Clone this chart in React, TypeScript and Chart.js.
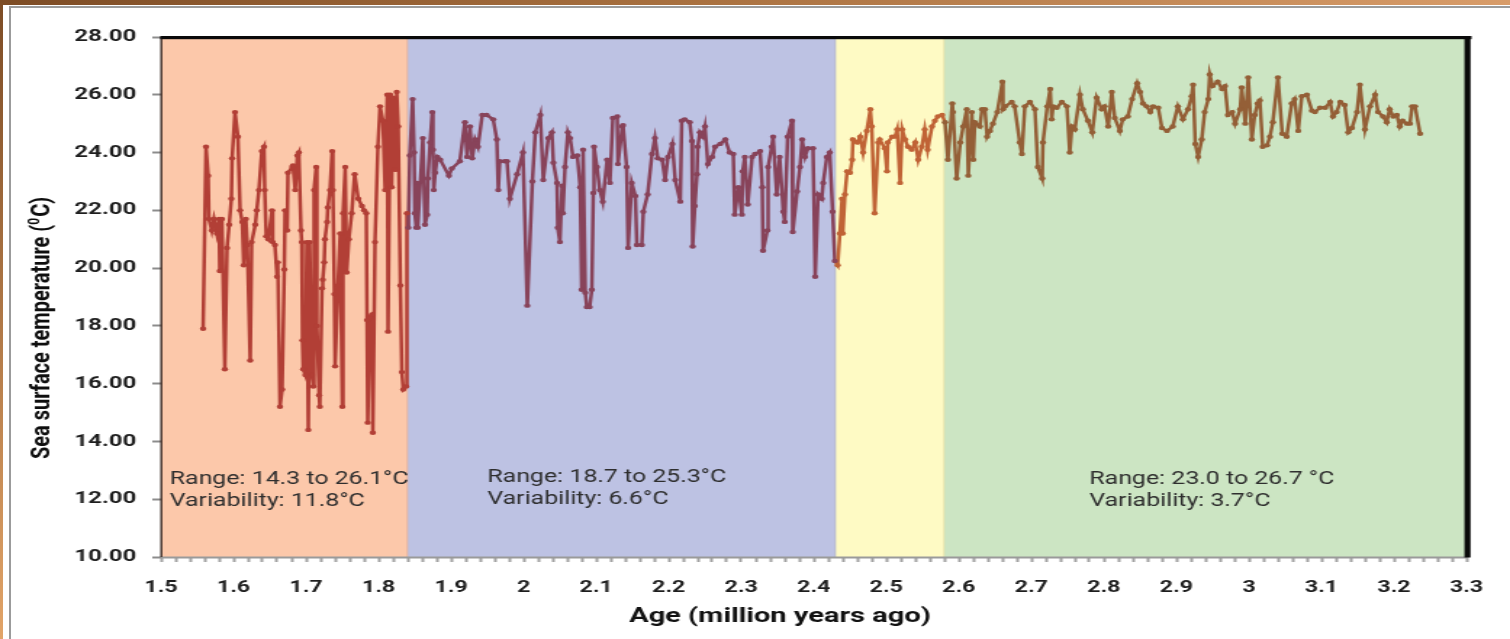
import React, { useEffect, useRef } from 'react';
import { Chart, registerables } from 'chart.js';

Chart.register(...registerables);

// ---- data (age in million years ago, sea surface temperature in °C) ----
const ages: number[] = [
  1.558, 1.562, 1.565, 1.566, 1.570, 1.573, 1.577, 1.580, 1.581, 1.584, 1.588, 1.591, 1.594, 1.597, 1.598, 1.602,
  1.606, 1.609, 1.612, 1.614, 1.617, 1.619, 1.623, 1.625, 1.630, 1.632, 1.635, 1.639, 1.642, 1.643, 1.645, 1.648,
  1.653, 1.654, 1.657, 1.660, 1.661, 1.664, 1.667, 1.670, 1.671, 1.674, 1.675, 1.681, 1.682, 1.685, 1.688, 1.690,
  1.693, 1.694, 1.695, 1.696, 1.699, 1.701, 1.703, 1.705, 1.708, 1.710, 1.711, 1.714, 1.715, 1.718, 1.719, 1.722,
  1.723, 1.725, 1.726, 1.729, 1.730, 1.733, 1.736, 1.737, 1.739, 1.740, 1.744, 1.747, 1.750, 1.751, 1.754, 1.756,
  1.759, 1.763, 1.767, 1.772, 1.777, 1.780, 1.783, 1.784, 1.785, 1.788, 1.791, 1.792, 1.795, 1.799, 1.802, 1.806,
  1.809, 1.812, 1.813, 1.816, 1.818, 1.820, 1.823, 1.825, 1.827, 1.830, 1.832, 1.834, 1.838, 1.839, 1.841, 1.843,
  1.847, 1.849, 1.850, 1.852, 1.853, 1.854, 1.861, 1.864, 1.867, 1.868, 1.871, 1.874, 1.875, 1.876, 1.878, 1.881,
  1.885, 1.897, 1.901, 1.912, 1.919, 1.922, 1.926, 1.929, 1.933, 1.937, 1.943, 1.949, 1.958, 1.963, 1.965, 1.967,
  1.974, 1.977, 1.981, 1.991, 1.999, 2.005, 2.012, 2.016, 2.023, 2.027, 2.034, 2.039, 2.041, 2.046, 2.047, 2.050,
  2.053, 2.054, 2.057, 2.061, 2.064, 2.068, 2.074, 2.078, 2.080, 2.082, 2.085, 2.087, 2.091, 2.094, 2.096, 2.097,
  2.101, 2.105, 2.109, 2.115, 2.119, 2.123, 2.129, 2.130, 2.136, 2.137, 2.142, 2.144, 2.149, 2.154, 2.156, 2.163,
  2.165, 2.171, 2.177, 2.181, 2.185, 2.191, 2.195, 2.199, 2.205, 2.209, 2.216, 2.218, 2.222, 2.229, 2.232, 2.233,
  2.236, 2.239, 2.240, 2.243, 2.247, 2.250, 2.254, 2.260, 2.264, 2.271, 2.278, 2.284, 2.289, 2.291, 2.296, 2.301,
  2.302, 2.305, 2.309, 2.315, 2.319, 2.326, 2.329, 2.330, 2.336, 2.337, 2.342, 2.344, 2.349, 2.353, 2.358, 2.360,
  2.364, 2.370, 2.371, 2.377, 2.381, 2.384, 2.388, 2.392, 2.399, 2.402, 2.406, 2.411, 2.413, 2.418, 2.422, 2.426,
  2.429, 2.433, 2.436, 2.439, 2.440, 2.443, 2.446, 2.450, 2.453, 2.454, 2.460, 2.464, 2.468, 2.473, 2.478, 2.480,
  2.484, 2.489, 2.491, 2.498, 2.501, 2.502, 2.508, 2.512, 2.515, 2.519, 2.522, 2.526, 2.530, 2.535, 2.540, 2.544,
  2.549, 2.553, 2.557, 2.563, 2.567, 2.571, 2.577, 2.581, 2.585, 2.591, 2.592, 2.597, 2.602, 2.606, 2.611, 2.613,
  2.618, 2.620, 2.622, 2.629, 2.632, 2.636, 2.639, 2.643, 2.647, 2.653, 2.660, 2.661, 2.664, 2.673, 2.677, 2.684,
  2.687, 2.691, 2.698, 2.705, 2.709, 2.715, 2.716, 2.722, 2.726, 2.728, 2.730, 2.735, 2.742, 2.749, 2.753, 2.756,
  2.760, 2.767, 2.771, 2.778, 2.784, 2.790, 2.797, 2.801, 2.806, 2.811, 2.815, 2.822, 2.826, 2.833, 2.839, 2.846,
  2.850, 2.854, 2.859, 2.864, 2.868, 2.875, 2.880, 2.887, 2.895, 2.902, 2.909, 2.916, 2.921, 2.923, 2.926, 2.930,
  2.935, 2.939, 2.944, 2.946, 2.950, 2.957, 2.963, 2.967, 2.971, 2.977, 2.981, 2.988, 2.990, 2.995, 2.999, 3.004,
  3.008, 3.012, 3.015, 3.019, 3.025, 3.029, 3.033, 3.040, 3.046, 3.052, 3.059, 3.063, 3.068, 3.073, 3.080, 3.087,
  3.091, 3.098, 3.105, 3.112, 3.116, 3.121, 3.126, 3.132, 3.137, 3.142, 3.149, 3.153, 3.160, 3.167, 3.174, 3.178,
  3.185, 3.190, 3.194, 3.199, 3.204, 3.208, 3.212, 3.218, 3.222, 3.225, 3.229, 3.236,
];

const temps: number[] = [
  17.9, 24.2, 23.2, 21.7, 21.3, 21.7, 21.2, 21.7, 19.9, 21.7, 16.5, 20.7, 21.5, 22.4, 23.8, 25.4,
  24.55, 22.0, 21.6, 20.1, 21.7, 20.8, 16.8, 20.9, 21.5, 22.0, 22.7, 24.05, 24.2, 22.7, 21.1, 21.0,
  22.0, 20.9, 20.8, 19.7, 20.2, 15.2, 15.8, 19.95, 22.0, 21.3, 23.3, 23.5, 23.55, 22.7, 23.9, 24.0,
  21.3, 20.9, 17.5, 16.5, 16.3, 20.9, 14.4, 20.9, 16.3, 15.9, 22.7, 23.5, 18.0, 15.6, 15.2, 19.3,
  19.6, 20.2, 21.0, 21.6, 22.1, 22.7, 24.05, 22.7, 19.1, 16.6, 19.4, 21.2, 15.2, 21.9, 23.5, 19.85,
  21.0, 21.9, 23.25, 22.4, 22.15, 22.0, 21.9, 18.2, 14.65, 18.3, 18.4, 14.3, 20.9, 24.2, 25.6, 25.1,
  22.7, 26.0, 17.8, 26.0, 22.8, 25.9, 23.4, 26.1, 24.9, 19.4, 16.4, 15.8, 15.9, 21.9, 21.4, 23.9,
  25.85, 24.0, 21.9, 21.4, 22.95, 21.4, 24.5, 21.5, 21.85, 23.1, 24.35, 25.4, 24.1, 22.7, 23.3, 23.85,
  23.75, 23.2, 23.45, 23.7, 25.05, 23.85, 24.9, 23.8, 24.45, 24.2, 25.3, 25.3, 25.15, 24.45, 22.7, 23.7,
  23.7, 23.7, 22.4, 23.25, 24.0, 18.7, 23.0, 24.7, 25.3, 23.05, 24.5, 24.7, 23.65, 22.95, 21.4, 20.9,
  22.85, 21.9, 23.5, 24.7, 24.5, 23.85, 23.9, 22.8, 19.25, 24.1, 19.15, 18.65, 18.65, 19.25, 22.6, 24.2,
  23.5, 22.7, 22.3, 23.75, 22.95, 25.2, 25.25, 23.6, 24.9, 24.95, 23.5, 20.7, 22.95, 22.5, 20.8, 20.8,
  21.95, 22.55, 23.95, 24.5, 23.8, 23.75, 23.05, 23.85, 24.3, 23.05, 22.3, 25.1, 25.15, 25.05, 24.4, 20.75,
  22.15, 23.25, 24.2, 24.7, 24.55, 24.9, 23.6, 23.85, 24.2, 24.3, 24.45, 24.0, 23.95, 21.85, 22.8, 21.85,
  23.35, 23.85, 22.2, 23.85, 23.95, 24.05, 22.8, 20.6, 21.3, 23.5, 24.2, 24.55, 22.55, 23.85, 21.95, 21.6,
  24.55, 25.1, 21.25, 22.65, 23.5, 24.45, 23.85, 24.15, 24.15, 19.7, 22.55, 22.4, 22.95, 23.85, 24.0, 21.95,
  20.25, 20.1, 21.2, 22.4, 21.2, 22.55, 23.35, 23.3, 23.75, 24.45, 24.35, 24.55, 24.0, 24.75, 25.5, 24.9,
  21.9, 24.35, 24.45, 24.15, 23.35, 24.35, 24.55, 24.55, 24.8, 22.95, 24.8, 24.45, 24.2, 24.1, 24.35, 23.75,
  24.2, 24.8, 24.1, 24.9, 25.1, 25.25, 25.3, 25.05, 23.75, 25.7, 25.4, 23.1, 24.35, 24.9, 25.5, 23.2,
  25.4, 23.75, 25.05, 24.9, 25.5, 25.5, 24.55, 24.75, 25.0, 25.4, 26.45, 25.5, 25.6, 25.75, 25.6, 24.35,
  23.95, 25.6, 25.75, 25.5, 23.5, 23.1, 24.35, 25.6, 26.2, 25.15, 25.6, 25.55, 25.75, 25.6, 24.0, 24.9,
  24.8, 26.0, 25.5, 25.1, 24.7, 25.9, 25.5, 25.6, 24.9, 26.1, 25.2, 24.75, 25.15, 25.25, 25.85, 26.4,
  26.1, 25.7, 25.6, 25.4, 25.6, 25.55, 24.85, 24.75, 24.9, 25.6, 25.15, 25.5, 25.95, 26.35, 24.3, 23.85,
  24.45, 25.4, 25.85, 26.7, 26.3, 26.45, 26.2, 26.3, 25.3, 25.4, 25.0, 25.5, 26.25, 25.0, 26.6, 24.45,
  25.3, 25.7, 25.8, 24.2, 24.25, 24.55, 25.05, 26.6, 24.65, 24.55, 25.7, 25.85, 24.75, 25.95, 26.0, 25.45,
  25.4, 25.55, 25.55, 25.75, 25.25, 25.4, 25.75, 25.65, 24.7, 24.85, 25.4, 26.35, 24.8, 25.6, 26.0, 25.4,
  25.25, 25.05, 25.5, 25.25, 25.3, 24.9, 25.1, 25.0, 25.0, 25.6, 25.6, 24.65,
];

// ---- axes ----
const xMajorTicks: number[] = [1.5, 1.6, 1.7, 1.8, 1.9, 2.0, 2.1, 2.2, 2.3, 2.4, 2.5, 2.6, 2.7, 2.8, 2.9, 3.0, 3.1, 3.2, 3.3];
const xMinorDivisions = 5;
const yTicks: number[] = [10, 12, 14, 16, 18, 20, 22, 24, 26, 28];

// ---- climate intervals ----
const bandStart: number[] = [1.5, 1.84, 2.43, 2.58];
const bandEnd: number[] = [1.84, 2.43, 2.58, 3.3];
const bandFill: string[] = ['#FCC8AA', '#BDC2E3', '#FEFAC4', '#CCE5C3'];
const bandEdge: string[] = ['#E0B2A2', '#B7B8CC', '#E2E0AA', '#CCE5C3'];
const bandLine: string[] = ['#B23F36', '#88435A', '#C06336', '#945F37'];

// ---- annotations ----
const annX: number[] = [1.512, 1.95, 2.78];
const annY1: number[] = [12.67, 12.74, 12.67];
const annY2: number[] = [11.91, 11.98, 11.91];
const annLine1: string[] = ['Range: 14.3 to 26.1°C', 'Range: 18.7 to 25.3°C', 'Range: 23.0 to 26.7 °C'];
const annLine2: string[] = ['Variability: 11.8°C', 'Variability: 6.6°C', 'Variability: 3.7°C'];

const yTitleMain = 'Sea surface temperature (';
const yTitleSup = '0';
const yTitleEnd = 'C)';
const xTitle = 'Age (million years ago)';

// the reference picture is horizontally stretched; render narrow and stretch
const CANVAS_W = 1041;
const CANVAS_H = 639;
const DISPLAY_W = 1510;
const SX = DISPLAY_W / CANVAS_W;

function bandIndex(x: number): number {
  for (let i = 0; i < bandEnd.length; i++) if (x < bandEnd[i]) return i;
  return bandEnd.length - 1;
}

function buildXTicks(): number[] {
  const out: number[] = [];
  for (let i = 0; i < xMajorTicks.length; i++) {
    out.push(xMajorTicks[i]);
    if (i < xMajorTicks.length - 1) {
      const step = (xMajorTicks[i + 1] - xMajorTicks[i]) / xMinorDivisions;
      for (let k = 1; k < xMinorDivisions; k++) out.push(Math.round((xMajorTicks[i] + k * step) * 1000) / 1000);
    }
  }
  return out;
}

function isMajor(v: number): boolean {
  return xMajorTicks.some((m) => Math.abs(m - v) < 1e-6);
}

function drawText(ctx: CanvasRenderingContext2D, text: string, x: number, y: number, font: string, color: string, align: CanvasTextAlign, sx: number) {
  ctx.save();
  ctx.translate(x, y);
  ctx.scale(sx, 1);
  ctx.font = font;
  ctx.fillStyle = color;
  ctx.textAlign = align;
  ctx.textBaseline = 'middle';
  ctx.fillText(text, 0, 0);
  ctx.restore();
}

const bandsPlugin = {
  id: 'bands',
  beforeDatasetsDraw(chart: any) {
    const { ctx, chartArea: a, scales } = chart;
    const x = scales.x;
    ctx.save();
    for (let i = 0; i < bandStart.length; i++) {
      const x0 = x.getPixelForValue(bandStart[i]);
      const x1 = x.getPixelForValue(bandEnd[i]);
      ctx.fillStyle = bandFill[i];
      ctx.fillRect(x0, a.top, x1 - x0, a.bottom - a.top);
    }
    for (let i = 1; i < bandStart.length; i++) {
      const x0 = x.getPixelForValue(bandStart[i]);
      ctx.fillStyle = bandEdge[i - 1];
      ctx.fillRect(x0 - 0.6, a.top, 0.9, a.bottom - a.top);
    }
    ctx.restore();
  },
};

const decorPlugin = {
  id: 'decor',
  afterDraw(chart: any) {
    const { ctx, chartArea: a, scales } = chart;
    const xs = scales.x;
    const ys = scales.y;
    ctx.save();
    // plot frame
    ctx.fillStyle = '#9a9a9a';
    ctx.fillRect(a.left, a.bottom - 0.5, a.right - a.left, 2);
    ctx.fillStyle = '#3a2a24';
    ctx.fillRect(a.left - 0.5, a.top, 1.4, a.bottom - a.top);
    ctx.fillStyle = '#0a0a0a';
    ctx.fillRect(a.left - 0.5, a.top - 1, a.right - a.left + 4, 3.2);
    ctx.fillRect(a.right - 1.4, a.top - 1, 4.2, a.bottom - a.top + 1.5);
    ctx.restore();

    // annotations
    for (let i = 0; i < annX.length; i++) {
      const px = xs.getPixelForValue(annX[i]);
      drawText(ctx, annLine1[i], px, ys.getPixelForValue(annY1[i]), '17.5px Roboto', '#2e2e2e', 'left', 0.98);
      drawText(ctx, annLine2[i], px, ys.getPixelForValue(annY2[i]), '17.5px Roboto', '#2e2e2e', 'left', 0.98);
    }

    // x title
    drawText(ctx, xTitle, 780 / SX, 617, 'bold 20px Roboto', '#111', 'center', 1.0);

    // y title with superscript
    ctx.save();
    ctx.translate(40 / SX, 328);
    ctx.scale(0.9, 1);
    ctx.rotate(-Math.PI / 2);
    const big = 'bold 20px Roboto';
    const small = 'bold 12px Roboto';
    ctx.font = big;
    const w1 = ctx.measureText(yTitleMain).width;
    const w3 = ctx.measureText(yTitleEnd).width;
    ctx.font = small;
    const w2 = ctx.measureText(yTitleSup).width + 1;
    let p = -(w1 + w2 + w3) / 2;
    ctx.fillStyle = '#0e0e0e';
    ctx.textAlign = 'left';
    ctx.textBaseline = 'alphabetic';
    const base = 7;
    ctx.font = big;
    ctx.fillText(yTitleMain, p, base);
    p += w1;
    ctx.font = small;
    ctx.fillText(yTitleSup, p, base - 8);
    p += w2;
    ctx.font = big;
    ctx.fillText(yTitleEnd, p, base);
    ctx.restore();
  },
};

export default function App() {
  const ref = useRef<HTMLCanvasElement>(null);

  useEffect(() => {
    const canvas = ref.current;
    if (!canvas) return;
    const xTickValues = buildXTicks();
    const points = ages.map((a, i) => ({ x: a, y: temps[i] }));
    const chart = new Chart(canvas, {
      type: 'line',
      data: {
        datasets: [
          {
            data: points,
            borderColor: bandLine[0],
            borderWidth: 2.5,
            pointRadius: 2.2,
            pointHoverRadius: 2.2,
            pointBorderWidth: 0,
            pointBackgroundColor: (c: any) => bandLine[bandIndex(c.raw ? c.raw.x : 1.5)],
            tension: 0,
            fill: false,
            segment: {
              borderColor: (c: any) => bandLine[bandIndex((c.p0.parsed.x + c.p1.parsed.x) / 2)],
            },
          } as any,
        ],
      },
      options: {
        responsive: false,
        animation: false,
        devicePixelRatio: 1,
        events: [],
        layout: { padding: { top: 37, right: 30, left: 0, bottom: 0 } },
        plugins: { legend: { display: false }, tooltip: { enabled: false }, title: { display: false } },
        scales: {
          x: {
            type: 'linear',
            min: 1.5,
            max: 3.3,
            afterBuildTicks: (s: any) => {
              s.ticks = xTickValues.map((v) => ({ value: v }));
            },
            afterFit: (s: any) => {
              s.height = CANVAS_H - 557;
            },
            border: { display: false },
            grid: { drawOnChartArea: false, drawTicks: true, tickLength: 5, tickWidth: 2, tickColor: '#a3a3a3' },
            ticks: {
              autoSkip: false,
              maxRotation: 0,
              minRotation: 0,
              padding: 16,
              color: '#1e1e1e',
              font: { family: 'Roboto', size: 16, weight: 'bold' },
              callback: (v: any) => (isMajor(Number(v)) ? String(Math.round(Number(v) * 10) / 10) : ''),
            },
          },
          y: {
            type: 'linear',
            min: 10,
            max: 28,
            afterBuildTicks: (s: any) => {
              s.ticks = yTicks.map((v) => ({ value: v }));
            },
            afterFit: (s: any) => {
              s.width = 111;
            },
            border: { display: false },
            grid: { drawOnChartArea: false, drawTicks: true, tickLength: 6, tickWidth: 2, tickColor: '#8c8c8c' },
            ticks: {
              padding: 11,
              color: '#1e1e1e',
              font: { family: 'Roboto', size: 16.5, weight: 'bold' },
              callback: (v: any) => Number(v).toFixed(2),
            },
          },
        },
      } as any,
      plugins: [bandsPlugin, decorPlugin],
    });
    return () => chart.destroy();
  }, []);

  return (
    <div style={{ position: 'fixed', left: 0, top: 0, width: DISPLAY_W, height: CANVAS_H, background: '#fff', overflow: 'hidden' }}>
      <div style={{ position: 'absolute', left: 0, top: 0, width: DISPLAY_W, height: 5, background: 'linear-gradient(to right, #7d4c25, #a8703f 45%, #d89c69)' }} />
      <div style={{ position: 'absolute', left: 0, top: 0, width: 3, height: CANVAS_H, background: 'linear-gradient(to bottom, #7d4c25, #e2a468)' }} />
      <div style={{ position: 'absolute', left: 9, top: 6, width: DISPLAY_W - 9, height: 2, background: '#9b9b9b' }} />
      <div style={{ position: 'absolute', left: 9, top: 6, width: 2, height: CANVAS_H - 6, background: '#9b9b9b' }} />
      <canvas
        ref={ref}
        width={CANVAS_W}
        height={CANVAS_H}
        style={{ position: 'absolute', left: 0, top: 0, width: DISPLAY_W + 'px', height: CANVAS_H + 'px' }}
      />
    </div>
  );
}
